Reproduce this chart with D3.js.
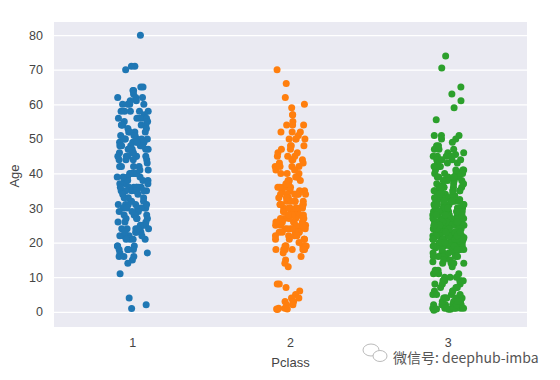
<!DOCTYPE html>
<html>
<head>
<meta charset="utf-8">
<script src="https://cdn.jsdelivr.net/npm/d3@7"></script>
<style>
  body { margin: 0; background: #fff; }
  svg { display: block; font-family: "Liberation Sans", Arial, sans-serif; }
</style>
</head>
<body>
<div id="vis"></div>
<script>
const FRAME_WIDTH = 560;
const FRAME_HEIGHT = 380;
const MARGINS = { top: 22, bottom: 53, left: 54, right: 33 };
const VIS_WIDTH = FRAME_WIDTH - MARGINS.left - MARGINS.right;
const VIS_HEIGHT = FRAME_HEIGHT - MARGINS.top - MARGINS.bottom;

// categories + colours (seaborn default palette)
const CLASSES = ["1", "2", "3"];
const COLORS = ["#1f77b4", "#ff7f0e", "#2ca02c"];
const Y_TICKS = [0, 10, 20, 30, 40, 50, 60, 70, 80];

const AGE_1 = [
  80, 71, 71, 70, 65, 65, 64, 64, 63, 62, 62, 61, 60, 60, 60, 58, 58, 58, 58, 57,
  56, 56, 56, 56, 55, 54, 54, 54, 54, 53, 52, 52, 52, 51, 51, 50, 50, 50, 50, 50,
  49, 49, 49, 49, 48, 48, 48, 48, 47, 47, 47, 47, 46, 46, 45, 45, 45, 45, 45, 44,
  44, 44, 43, 42, 42, 42, 41, 40, 40, 40, 40, 40, 39, 39, 39, 38, 38, 38, 37, 37,
  36, 36, 36, 36, 36, 36, 35, 35, 35, 35, 35, 35, 35, 34, 33, 33, 32, 32, 31, 31,
  31, 31, 30, 30, 30, 30, 30, 29, 29, 28, 28, 28, 27, 27, 27, 26, 26, 25, 25, 24,
  24, 24, 24, 24, 23, 23, 23, 22, 22, 22, 22, 21, 21, 21, 19, 19, 19, 18, 18, 18,
  18, 17, 17, 16, 16, 16, 15, 14, 11, 4, 2, 0.92,
  33, 34, 37, 38, 39, 42, 44, 46, 47, 48, 49, 50, 51, 52, 53, 54, 55, 56, 58, 60,
  61, 62, 36, 35, 31, 30, 29, 28, 27, 26, 25, 24, 23, 22, 21, 40, 41, 45, 48, 49
];

const AGE_2 = [
  70, 66, 62, 60, 59, 57, 57, 55, 54, 54, 54, 52, 52, 51, 50, 50, 50, 48, 48, 48,
  47, 46, 45, 45, 44, 44, 43, 42, 42, 42, 41, 41, 40, 40, 39, 39, 38, 38, 37, 36,
  36, 36, 36, 35, 35, 35, 34, 34, 34, 34, 34, 33, 33, 32, 32, 32, 32, 31, 31, 31,
  30, 30, 30, 30, 30, 29, 29, 29, 28, 28, 28, 28, 28, 27, 27, 27, 27, 26, 26, 26,
  25, 25, 25, 25, 24, 24, 24, 24, 24, 23, 23, 23, 23, 22, 22, 22, 21, 21, 21, 21,
  19, 19, 19, 19, 18, 18, 18, 18, 18, 18, 17, 16, 15, 14, 13, 8, 8, 7, 6, 5,
  4, 4, 3, 3, 3, 2, 2, 1, 1, 0.83, 0.83, 0.67,
  36, 30, 31, 32, 33, 34, 35, 29, 28, 27, 26, 25, 24, 23, 22, 40, 42, 44, 45, 47,
  19, 20, 21, 38, 39, 50, 52, 46, 43, 37, 18, 24, 25, 28, 30, 31, 34, 36, 27
];

const AGE_3 = [
  74, 70.5, 65, 63, 61, 59, 55.5, 51, 51, 51, 50, 49, 48, 47, 47, 46, 45, 45, 45, 44,
  44, 43, 42, 42, 41, 41, 40, 40, 40, 40, 39, 39, 39, 38, 38, 38, 37, 37, 36, 36,
  36, 35, 35, 35, 34, 34, 34, 34, 33, 33, 33, 33, 32, 32, 32, 32, 32, 31, 31, 31,
  31, 30, 30, 30, 30, 30, 30, 29, 29, 29, 29, 29, 28, 28, 28, 28, 28, 28, 28, 27,
  27, 27, 27, 27, 26, 26, 26, 26, 26, 26, 25, 25, 25, 25, 25, 25, 25, 24, 24, 24,
  24, 24, 24, 24, 23, 23, 23, 23, 23, 23, 22, 22, 22, 22, 22, 22, 22, 22, 21, 21,
  21, 21, 21, 21, 21, 21, 20, 20, 20, 20, 20, 20, 20, 20, 19, 19, 19, 19, 19, 19,
  19, 19, 18, 18, 18, 18, 18, 18, 18, 18, 17, 17, 17, 17, 17, 16, 16, 16, 16, 16,
  16, 15, 15, 14, 14, 14, 13, 12, 11, 11, 10, 10, 9, 9, 9, 9, 8, 8, 7, 7,
  6, 6, 5, 5, 4, 4, 4, 4, 3, 3, 3, 2, 2, 2, 2, 2, 1, 1, 1, 1,
  0.75, 0.75, 0.42, 20.5, 28.5, 14.5, 32.5, 40.5, 45.5, 24.5, 30.5, 34.5, 36.5, 23.5, 18.5, 22.5, 26.5, 33.5, 21.5, 29.5,
  48, 47, 46, 44, 43, 42, 41, 40, 39, 38, 37, 36, 35, 34, 33, 32, 31, 30, 29, 28,
  27, 26, 25, 24, 23, 22, 21, 20, 19, 18, 17, 16, 35, 33, 31, 29, 28, 27, 26, 25,
  24, 23, 22, 22, 21, 21, 20, 20, 19, 19, 18, 18, 25, 24, 26, 27, 28, 29, 30, 32,
  34, 36, 38, 40, 42, 45, 22, 23, 24, 25, 26, 21, 20, 19, 30, 31, 32, 28, 27, 29,
  11, 9, 8, 6, 5, 4, 3, 2, 1, 12, 10, 7, 2, 4, 3, 1, 0.83, 5, 9, 14,
  24, 25, 26, 22, 21, 23, 28, 18, 19, 20, 33, 34, 35, 36, 37, 39, 41, 43, 44, 50
];

const SERIES = [AGE_1, AGE_2, AGE_3];

const FRAME = d3.select("#vis")
  .append("svg")
  .attr("width", FRAME_WIDTH)
  .attr("height", FRAME_HEIGHT);

const X_SCALE = d3.scaleBand()
  .domain(CLASSES)
  .range([MARGINS.left, MARGINS.left + VIS_WIDTH])
  .padding(0);

const Y_SCALE = d3.scaleLinear()
  .domain([-4.4, 83.8])
  .range([MARGINS.top + VIS_HEIGHT, MARGINS.top]);

// darkgrid background
FRAME.append("rect")
  .attr("x", MARGINS.left)
  .attr("y", MARGINS.top)
  .attr("width", VIS_WIDTH)
  .attr("height", VIS_HEIGHT)
  .attr("fill", "#eaeaf2");

// horizontal grid only (categorical x)
FRAME.append("g")
  .attr("transform", `translate(${MARGINS.left},0)`)
  .call(d3.axisLeft(Y_SCALE).tickValues(Y_TICKS).tickSize(-VIS_WIDTH).tickFormat(""))
  .call((g) => g.select(".domain").remove())
  .call((g) => g.selectAll("line").attr("stroke", "#fff").attr("stroke-width", 1.3));

// deterministic jitter inside +-0.1 of the band step
function spread(i, k) {
  const s = Math.sin((i + 1) * 12.9898 + (k + 1) * 78.233) * 43758.5453;
  return s - Math.floor(s);
}
const JITTER = 0.1 * X_SCALE.step();

SERIES.forEach((ages, k) => {
  const cx = X_SCALE(CLASSES[k]) + X_SCALE.bandwidth() / 2;
  FRAME.append("g")
    .selectAll("circle")
    .data(ages)
    .enter()
    .append("circle")
    .attr("cx", (d, i) => cx + (spread(i, k) * 2 - 1) * JITTER)
    .attr("cy", (d) => Y_SCALE(d))
    .attr("r", 3.5)
    .attr("fill", COLORS[k]);
});

// y axis labels
FRAME.append("g")
  .attr("transform", `translate(${MARGINS.left},0)`)
  .call(d3.axisLeft(Y_SCALE).tickValues(Y_TICKS).tickSize(0).tickPadding(11))
  .call((g) => g.select(".domain").remove())
  .call((g) => g.selectAll("text").attr("fill", "#444").attr("font-size", 12.5)
    .attr("font-family", "Liberation Sans, Arial, sans-serif"));

// x axis labels
FRAME.append("g")
  .attr("transform", `translate(0,${MARGINS.top + VIS_HEIGHT})`)
  .call(d3.axisBottom(X_SCALE).tickSize(0).tickPadding(11))
  .call((g) => g.select(".domain").remove())
  .call((g) => g.selectAll("text").attr("fill", "#444").attr("font-size", 12.5)
    .attr("font-family", "Liberation Sans, Arial, sans-serif"));

FRAME.append("text")
  .attr("transform", `translate(19,176) rotate(-90)`)
  .attr("text-anchor", "middle")
  .attr("fill", "#444")
  .style("font-size", "13px")
  .text("Age");

FRAME.append("text")
  .attr("x", MARGINS.left + VIS_WIDTH / 2)
  .attr("y", 367)
  .attr("text-anchor", "middle")
  .attr("fill", "#444")
  .style("font-size", "13px")
  .text("Pclass");

// watermark
const WM = FRAME.append("g").attr("fill", "none").attr("stroke", "#bbb").attr("stroke-width", 1);
WM.append("ellipse").attr("cx", 371).attr("cy", 350).attr("rx", 8).attr("ry", 6);
WM.append("ellipse").attr("cx", 380).attr("cy", 356).attr("rx", 7).attr("ry", 5.5)
  .attr("fill", "#fff");

FRAME.append("text")
  .attr("x", 393)
  .attr("y", 363)
  .attr("fill", "#555")
  .style("font-size", "14px")
  .style("font-family", "'Noto Sans CJK SC', 'Liberation Sans', sans-serif")
  .text("微信号: deephub-imba");
</script>
</body>
</html>
